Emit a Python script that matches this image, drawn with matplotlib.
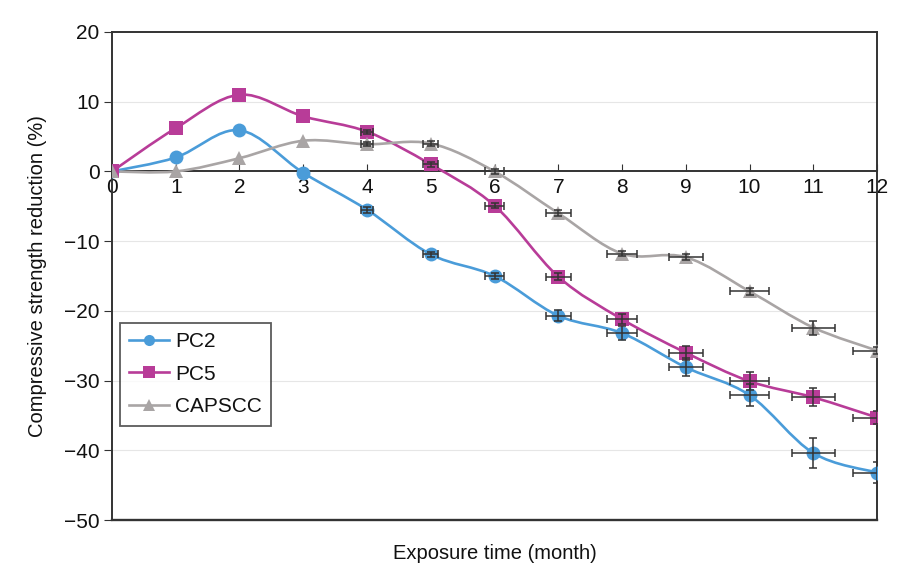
import numpy as np
import matplotlib.pyplot as plt
from matplotlib.path import Path
from matplotlib.patches import PathPatch

plt.rcParams['font.family'] = ['Liberation Sans', 'DejaVu Sans']

# valeurs
mois = [0, 1, 2, 3, 4, 5, 6, 7, 8, 9, 10, 11, 12]
pc2 = [0, 2.0, 5.9, -0.2, -5.5, -11.9, -15.0, -20.7, -23.2, -28.1, -32.1, -40.4, -43.2]
pc5 = [0, 6.2, 11.0, 7.9, 5.7, 1.0, -4.9, -15.1, -21.2, -26.0, -30.1, -32.4, -35.3]
capscc = [0, 0, 1.9, 4.4, 3.9, 4.0, 0, -6.0, -11.8, -12.3, -17.2, -22.4, -25.7]

# barres d'erreur
err_x = [0, 0, 0, 0, 0.1, 0.12, 0.15, 0.2, 0.24, 0.27, 0.3, 0.34, 0.37]
err_pc2 = [0, 0, 0, 0, 0.4, 0.4, 0.5, 0.8, 1.0, 1.3, 1.6, 2.1, 1.5]
err_pc5 = [0, 0, 0, 0, 0.3, 0.3, 0.4, 0.5, 0.7, 1.0, 1.3, 1.3, 1.0]
err_cap = [0, 0, 0, 0, 0.3, 0.3, 0.3, 0.4, 0.4, 0.4, 0.5, 1.0, 0.5]

series = [
    ('PC2', pc2, err_pc2, '#4a9cd9', 'o', 10),
    ('PC5', pc5, err_pc5, '#b83c98', 's', 10),
    ('CAPSCC', capscc, err_cap, '#a9a5a5', '^', 10),
]


def courbe_lisse(x, y):
    # courbe de type Catmull-Rom (lissage façon tableur)
    x = np.asarray(x, float)
    y = np.asarray(y, float)
    pts = np.column_stack([x, y])
    verts = [pts[0]]
    codes = [Path.MOVETO]
    n = len(pts)
    for i in range(n - 1):
        p0 = pts[max(i - 1, 0)]
        p1 = pts[i]
        p2 = pts[i + 1]
        p3 = pts[min(i + 2, n - 1)]
        c1 = p1 + (p2 - p0) / 6.0
        c2 = p2 - (p3 - p1) / 6.0
        verts += [c1, c2, p2]
        codes += [Path.CURVE4] * 3
    return Path(verts, codes)


fig = plt.figure(figsize=(8.98, 5.71), dpi=100)
ax = fig.add_axes([0.1247, 0.0893, 0.852, 0.8547])

for nom, vals, ey, couleur, mk, ms in series:
    ax.add_patch(PathPatch(courbe_lisse(mois, vals), facecolor='none',
                           edgecolor=couleur, lw=1.9, zorder=3))
    ax.plot(mois, vals, linestyle='none', marker=mk, color=couleur,
            markersize=ms, markeredgewidth=0, zorder=4)
    xe = np.array(err_x)
    ye = np.array(ey)
    m = (xe > 0) | (ye > 0)
    ax.errorbar(np.array(mois)[m], np.array(vals)[m], xerr=xe[m], yerr=ye[m],
                fmt='none', ecolor='#333333', elinewidth=1.1, capsize=3.2,
                capthick=1.1, zorder=5)
    ax.plot([], [], color=couleur, marker=mk, markersize=8, lw=1.9,
            markeredgewidth=0, label=nom)

ax.set_xlim(0, 12)
ax.set_ylim(-50, 20)
ax.set_xticks(mois)
ax.set_yticks([20, 10, 0, -10, -20, -30, -40, -50])
ax.set_yticklabels(['20', '10', '0', '\u221210', '\u221220', '\u221230',
                    '\u221240', '\u221250'])

for g in [10, -10, -20, -30, -40]:
    ax.axhline(g, color='#e6e6e6', lw=0.8, zorder=1)

ax.spines['bottom'].set_position(('data', 0))
for s in ax.spines.values():
    s.set_color('#333333')
    s.set_linewidth(1.4)
ax.axhline(-50, color='#333333', lw=1.7, clip_on=False, zorder=6)

ax.tick_params(axis='x', direction='in', length=5, labelsize=15, pad=5,
               color='#333333', labelcolor='#111111')
ax.tick_params(axis='y', direction='out', length=6, labelsize=15, pad=3,
               color='#333333', labelcolor='#111111')

ax.set_xlabel('Exposure time (month)', fontsize=14.5, color='#111111')
ax.xaxis.set_label_coords(0.5, -0.05)
ax.set_ylabel('Compressive strength reduction (%)', fontsize=14.5,
              labelpad=12, color='#111111')

leg = ax.legend(loc='upper left', bbox_to_anchor=(0.0105, 0.404),
                borderaxespad=0, fontsize=15, frameon=True, fancybox=False,
                handlelength=1.9, labelspacing=0.65, borderpad=0.45,
                handletextpad=0.3)
leg.get_frame().set_edgecolor('#333333')
leg.get_frame().set_linewidth(1.3)
for t in leg.get_texts():
    t.set_color('#111111')

fig.savefig('out.png', dpi=100)
